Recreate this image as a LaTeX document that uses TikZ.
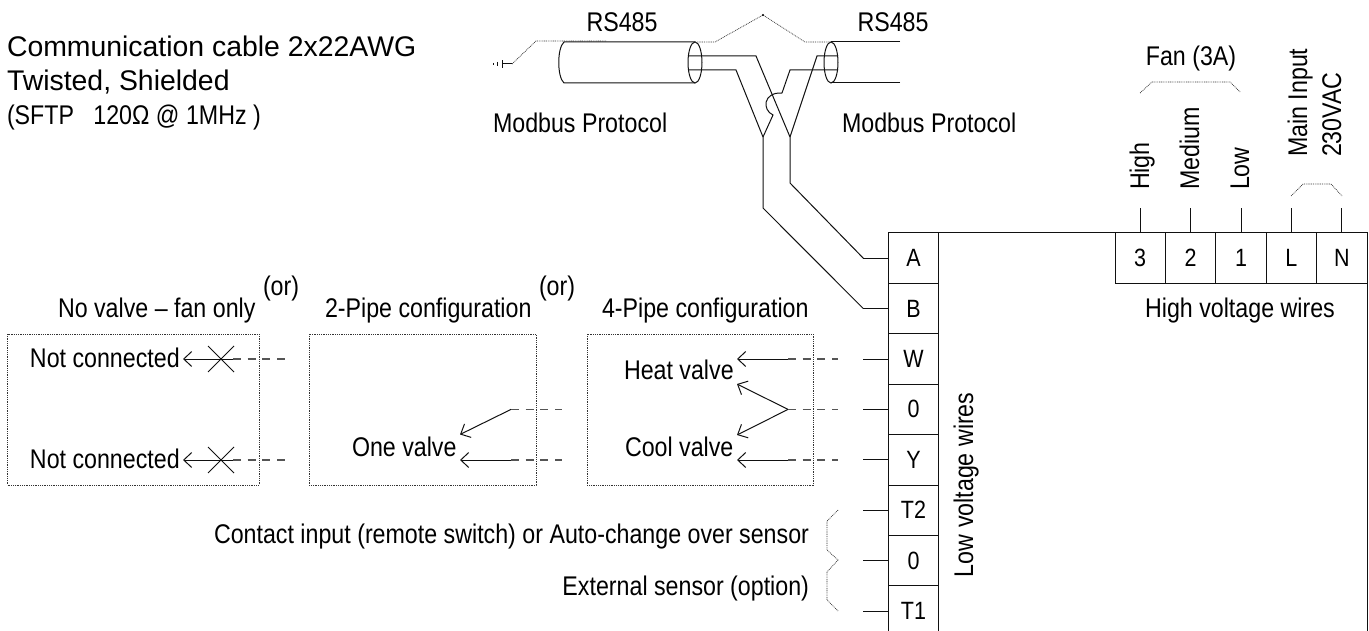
\documentclass[tikz,border=0pt]{standalone}
\usepackage{fontspec}
\setmainfont{Liberation Sans}
\newfontfamily\narrowf[FakeStretch=0.86]{Liberation Sans}
\usetikzlibrary{arrows.meta}
\definecolor{wirec}{HTML}{111111}
\definecolor{dashc}{HTML}{555555}
\definecolor{dotc}{HTML}{333333}
\tikzset{
  wire/.style={draw=wirec,line width=1pt,line join=miter},
  dotw/.style={draw=dotc,line width=0.7pt,dash pattern=on 0.9pt off 0.9pt},
  dashw/.style={draw=dashc,line width=1.1pt,dash pattern=on 8pt off 6.7pt},
  lead/.style={wire,-{Straight Barb[length=8pt,width=15pt,line width=1pt]}},
  lab/.style={inner sep=0pt,outer sep=0pt,text=black,font=\narrowf\fontsize{27}{27}\selectfont},
  bigl/.style={inner sep=0pt,outer sep=0pt,text=black,font=\fontsize{28.4}{28.4}\selectfont},
  term/.style={draw=wirec,line width=1pt,inner sep=0pt,outer sep=0pt,minimum width=50.4pt,minimum height=50.4pt,text height=17pt,text depth=0pt,font=\narrowf\fontsize{25}{25}\selectfont},
  stub/.style={wire},
  dotbox/.style={dotw,inner sep=0pt,outer sep=0pt}
}
\begin{document}
\begin{tikzpicture}[x=1pt,y=-1pt]
\clip (0,0) rectangle (1369,631);
% titles
\node[bigl,anchor=base west] (t1) at (7,57) {Communication cable 2x22AWG};
\node[bigl,anchor=base west] (t2) at (7,91) {Twisted, Shielded};
\node[lab,anchor=base west] (t3) at (7,125) {(SFTP\ \ \ 120Ω @ 1MHz )};
\node[lab,anchor=base] (rs1) at (622,32) {RS485};
\node[lab,anchor=base] (rs2) at (893,32) {RS485};
\node[lab,anchor=base west] (mb1) at (493,133) {Modbus Protocol};
\node[lab,anchor=base west] (mb2) at (842,133) {Modbus Protocol};
\node[lab,anchor=base] (fan) at (1191,66) {Fan (3A)};
\node[lab,anchor=base west,rotate=90] (hi) at (1149,190) {High};
\node[lab,anchor=base west,rotate=90] (me) at (1199,190) {Medium};
\node[lab,anchor=base west,rotate=90] (lo) at (1249,190) {Low};
\node[lab,anchor=base west,rotate=90] (mi) at (1307,157) {Main Input};
\node[lab,anchor=base west,rotate=90] (ac) at (1341,157) {230VAC};
\node[lab,anchor=base] (hv) at (1240,317) {High voltage wires};
\node[lab,anchor=base west,rotate=90] (lv) at (973,577) {Low voltage wires};
\node[lab,anchor=base west] (h1) at (58,318) {No valve – fan only};
\node[lab,anchor=base west] (or1) at (263,295) {(or)};
\node[lab,anchor=base west] (h2) at (325,318) {2-Pipe configuration};
\node[lab,anchor=base west] (or2) at (539,295) {(or)};
\node[lab,anchor=base west] (h3) at (602,318) {4-Pipe configuration};
\node[lab,anchor=base west] (nc1) at (30,367) {Not connected};
\node[lab,anchor=base west] (nc2) at (30,468) {Not connected};
\node[lab,anchor=base west] (one) at (352,456) {One valve};
\node[lab,anchor=base west] (heat) at (624,379) {Heat valve};
\node[lab,anchor=base west] (cool) at (625,456) {Cool valve};
\node[lab,anchor=base east] (ci) at (809,543) {Contact input (remote switch) or Auto-change over sensor};
\node[lab,anchor=base east] (es) at (809,595) {External sensor (option)};
% terminals
\foreach \n/\t/\y in {tA/A/258.2,tB/B/308.6,tW/W/359,tO/0/409.4,tY/Y/459.8,tTb/T2/510.2,tOb/0/560.6,tTa/T1/611}
  \node[term] (\n) at (913.5,\y) {\t};
\foreach \n/\t/\x in {t3h/3/1140.2,t2h/2/1190.6,t1h/1/1241,tL/L/1291.4,tN/N/1341.8}
  \node[term] (\n) at (\x,258.2) {\t};
% housing
\coordinate (brc) at (1367,640);
\draw[wire] (tA.north east) -- (tN.north east) -- (brc);
% top stubs
\foreach \n in {t3h,t2h,t1h,tL,tN}
  \draw[stub] (\n.north) -- ++(0,-25);
% left stubs
\foreach \n in {tA,tB,tW,tO,tY,tTb,tOb,tTa}
  \draw[stub] (\n.west) -- ++(-25,0) coordinate (\n s);
% RS485 wiring
\draw[wire] (tAs) -- (790,183) -- (790,137) -- (756,56) -- (689,56);
\draw[wire] (tBs) -- (763,208) -- (763,137) -- (736,70) -- (689,70);
\draw[wire] (790,137) -- (817,56) -- (838,56);
\draw[wire] (763,137) -- (773,115) .. controls (762,110) and (763,92) .. (782,93) -- (790,70) -- (838,70);
% cables
\draw[wire] (695,42) -- (564,42) .. controls (557,48) and (557,77) .. (564,83) -- (695,83);
\draw[wire] (695,62.5) ellipse [x radius=7,y radius=20.5];
\draw[wire] (900,42) -- (831,42);
\draw[wire] (900,83) -- (831,83);
\draw[wire] (831,62.5) ellipse [x radius=7,y radius=20.5];
% shield and ground
\draw[dotw] (512,64) -- (536,41) -- (606,41);
\draw[dotw] (695,42) -- (715,42) -- (763,15) -- (805,42) -- (831,42);
\fill[black] (763,15) circle (1.2);
\draw[wire] (512,64) -- (502,64);
\draw[wire] (502,60.5) -- (502,68.5);
\draw[wire] (497,62) -- (497,66.5);
\draw[wire] (493,63) -- (493,65.5);
% fan / main brackets
\draw[dotw] (1140,93) -- (1152,82) -- (1230,82) -- (1240,92);
\draw[dotw] (1291,196) -- (1303,184) -- (1331,184) -- (1342,196);
% T brackets
\draw[dotw] (838,510) -- (827,521) -- (827,550) -- (838,560) -- (827,572) -- (827,600) -- (838,611);
% option boxes
\draw[dotbox] (7.5,334) rectangle (259,485);
\draw[dotbox] (309,334) rectangle (536,485);
\draw[dotbox] (587,334) rectangle (813,485);
% no valve
\draw[lead] (233,359) -- (183,359);
\draw[dashw] (233,359) -- (285,359);
\draw[wire] (208,346) -- (234,372) (234,346) -- (208,372);
\draw[lead] (233,460) -- (183,460);
\draw[dashw] (233,460) -- (285,460);
\draw[wire] (208,447) -- (234,473) (234,447) -- (208,473);
% 2-pipe
\draw[lead] (511,409.4) -- (460,434.5);
\draw[dashw] (511,409.4) -- (562,409.4);
\draw[lead] (511,460) -- (460,460);
\draw[dashw] (511,460) -- (562,460);
% 4-pipe
\draw[lead] (788,359) -- (737,359);
\draw[dashw] (788,359) -- (838,359);
\draw[lead] (788,409.4) -- (737,384);
\draw[lead] (788,409.4) -- (737,435);
\draw[dashw] (788,409.4) -- (838,409.4);
\draw[lead] (788,460) -- (737,460);
\draw[dashw] (788,460) -- (838,460);
\end{tikzpicture}
\end{document}
